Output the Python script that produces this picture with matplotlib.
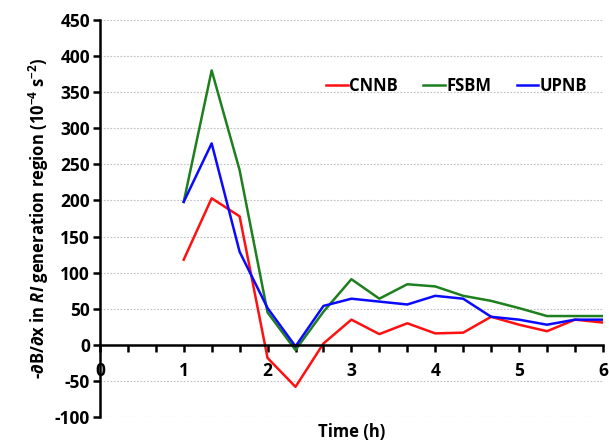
import numpy as np
import matplotlib
matplotlib.use("Agg")
import matplotlib.pyplot as plt
from matplotlib.ticker import MultipleLocator

plt.rcParams['font.family'] = ['Open Sans', 'DejaVu Sans']
plt.rcParams['font.weight'] = 'bold'
plt.rcParams['axes.unicode_minus'] = False
plt.rcParams['mathtext.fontset'] = 'custom'
plt.rcParams['mathtext.it'] = 'Open Sans:italic:bold'
plt.rcParams['mathtext.rm'] = 'Open Sans:bold'

# time steps every 20 minutes
hours = [1, 4/3, 5/3, 2, 7/3, 8/3, 3, 10/3, 11/3, 4, 13/3, 14/3, 5, 16/3, 17/3, 6]

cnnb = [118, 203, 178, -18, -58, 2, 35, 15, 30, 16, 17, 39, 28, 19, 35, 31]
fsbm = [198, 380, 242, 45, -7, 46, 91, 64, 84, 81, 68, 61, 51, 40, 40, 40]
upnb = [198, 279, 129, 51, -2, 54, 64, 60, 56, 68, 64, 39, 35, 28, 35, 35]

fig = plt.figure(figsize=(6.09, 4.41), dpi=100)
ax = fig.add_axes([0.164, 0.054, 0.826, 0.901])

ax.plot(hours, cnnb, color='#ff1010', lw=1.8, label='CNNB')
ax.plot(hours, fsbm, color='#1e7f1e', lw=1.8, label='FSBM')
ax.plot(hours, upnb, color='#0a0aff', lw=1.8, label='UPNB')

ax.set_xlim(0, 6)
ax.set_ylim(-100, 450)
ax.yaxis.set_major_locator(MultipleLocator(50))
ax.xaxis.set_major_locator(MultipleLocator(1))
ax.xaxis.set_minor_locator(MultipleLocator(1/3))

ax.grid(axis='y', color='#c0c0c0', ls=(0, (1.5, 1.5)), lw=0.8)
ax.set_axisbelow(True)

for s in ['top', 'right']:
    ax.spines[s].set_visible(False)
ax.spines['bottom'].set_position(('data', 0))
ax.spines['bottom'].set_linewidth(1.8)
ax.spines['left'].set_linewidth(1.8)

ax.tick_params(axis='y', direction='out', length=5, width=1.8, labelsize=12.5, pad=2)
ax.tick_params(axis='x', which='both', direction='out', length=5, width=1.8,
               labelsize=12.5, pad=7)
ax.tick_params(axis='x', which='minor', labelbottom=False)

ax.set_ylabel(r'-∂B/∂x in $RI$ generation region (10$^{-4}$ s$^{-2}$)',
              fontsize=12, fontweight='bold', labelpad=3)
fig.text(0.578, 0.02, 'Time (h)', fontsize=12, fontweight='bold',
         ha='center', va='center')

ax.legend(loc='upper left', bbox_to_anchor=(0.42, 0.895), ncol=3, frameon=False,
          fontsize=12, handlelength=1.3, handletextpad=0.1, columnspacing=1.5)

plt.savefig('out.png', dpi=100)
